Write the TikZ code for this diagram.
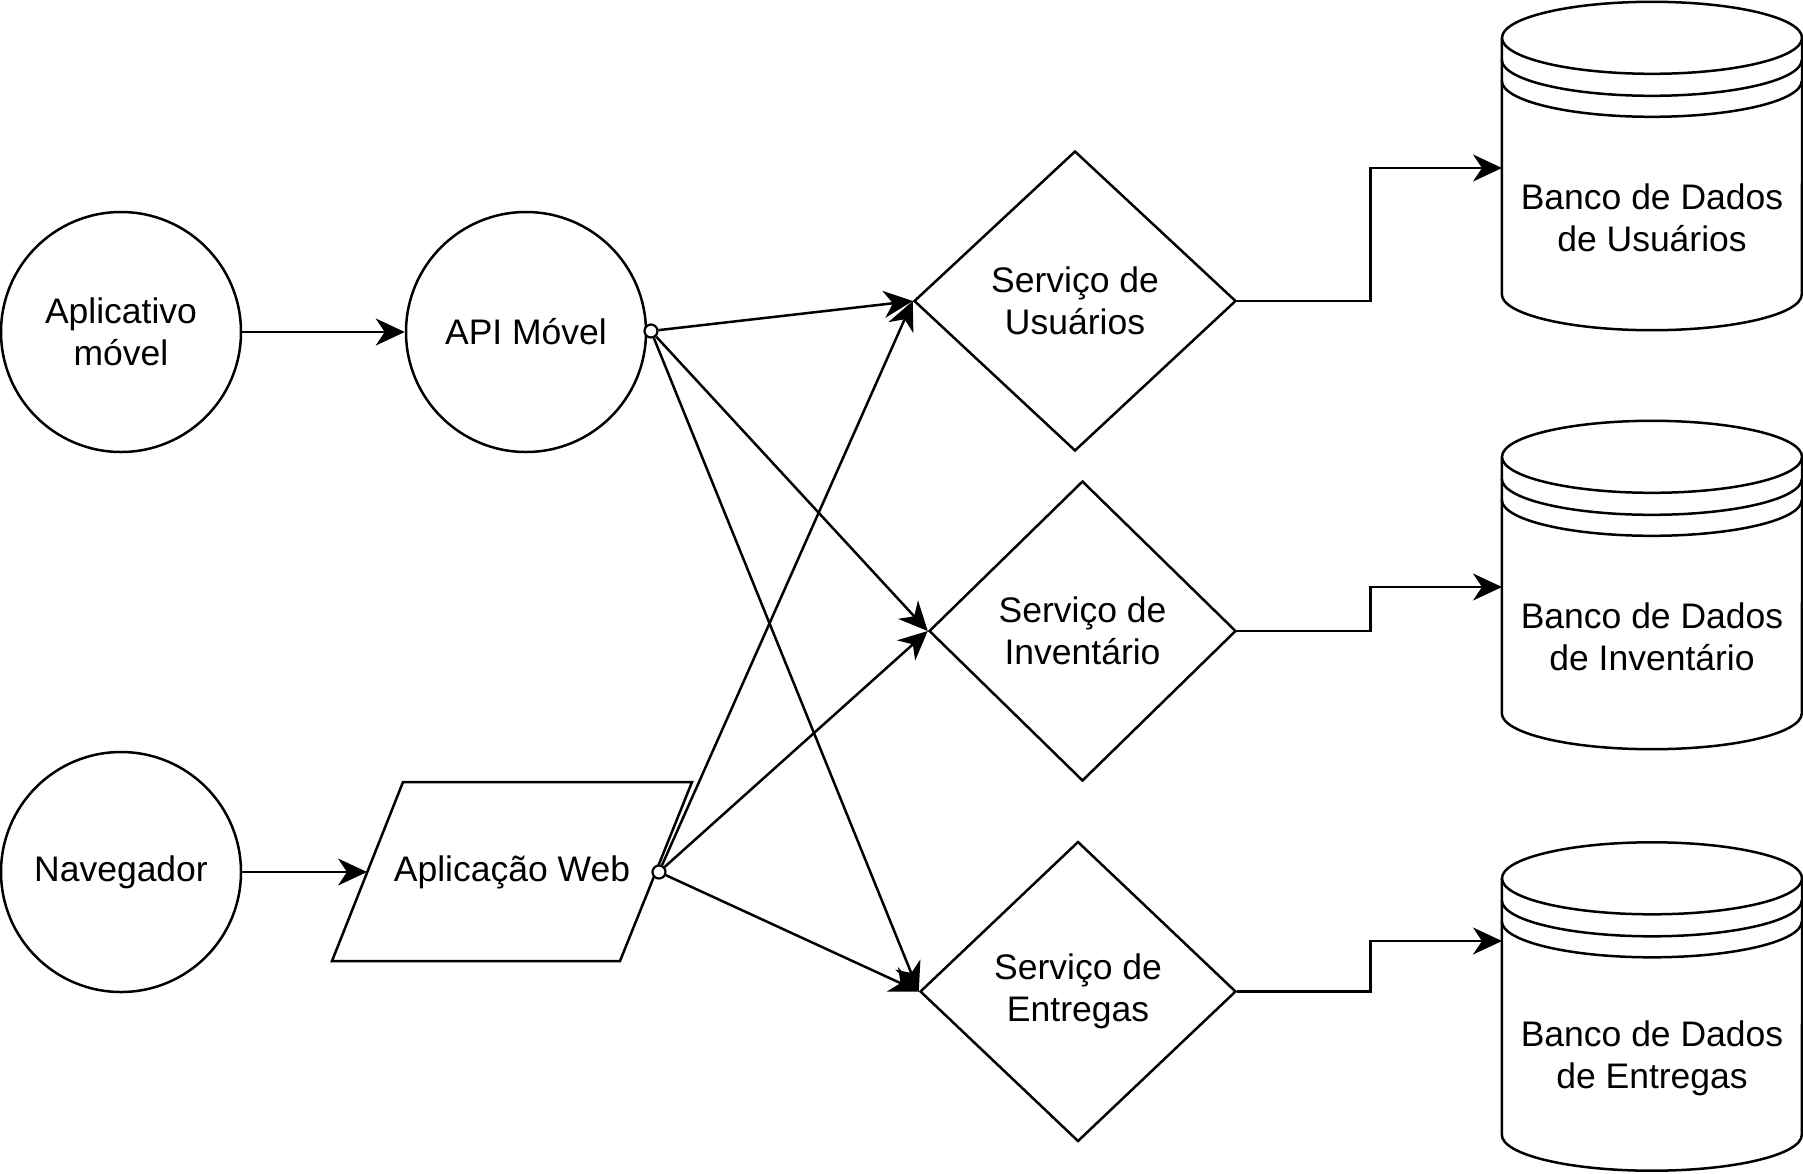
\documentclass[tikz,border=0pt]{standalone}
\usepackage{fontspec}
\setmainfont{Liberation Sans}
\usetikzlibrary{shapes.geometric,arrows.meta,calc}
\newcommand{\dbdraw}[1]{%
  \draw[ln,fill=white] ($(#1.north west)+(0,-36)$) -- ($(#1.south west)+(0,36)$)
    arc[start angle=180,end angle=360,x radius=150,y radius=36]
    -- ($(#1.north east)+(0,-36)$);
  \draw[ln,fill=white] ($(#1.north)+(0,-36)$) ellipse[x radius=150,y radius=36];
  \draw[ln] ($(#1.north west)+(0,-58)$) arc[start angle=180,end angle=360,x radius=150,y radius=36];
  \draw[ln] ($(#1.north west)+(0,-79)$) arc[start angle=180,end angle=360,x radius=150,y radius=36];
}
\begin{document}
\begin{tikzpicture}[x=1pt,y=1pt,
  every node/.style={font=\fontsize{35.5}{42.5}\selectfont,align=center},
  ln/.style={line width=2.5pt},
  arr/.style={ln,-{Stealth[length=29pt,width=27pt,inset=9pt]}},
  circ/.style={circle,draw,ln,minimum size=240pt,inner sep=0pt,fill=white},
  svc/.style={diamond,draw,ln,inner sep=0pt,fill=white,minimum height=300pt},
  dot/.style={circle,draw,line width=2.2pt,minimum size=13pt,inner sep=0pt,fill=white},
  dbbox/.style={rectangle,minimum width=300pt,minimum height=328pt,inner sep=0pt},
]
\useasboundingbox[fill=white] (0,0) rectangle (1803,-1173);

% source circles
\node[circ] (app) at (121,-332) {Aplicativo\\móvel};
\node[circ] (api) at (526,-332) {API Móvel};
\node[circ] (nav) at (121,-872) {Navegador};

% web application (parallelogram)
\draw[ln,fill=white] (403,-782) -- (692,-782) -- (620,-961) -- (332,-961) -- cycle;
\node (web) at (512,-872) {Aplicação Web};
\coordinate (webin) at (367,-872);

% services
\node[svc,minimum width=322pt] (su) at (1075,-301) {Serviço de\\Usuários};
\node[svc,minimum width=307pt] (si) at (1082.5,-631) {Serviço de\\Inventário};
\node[svc,minimum width=316pt] (se) at (1078,-991.5) {Serviço de\\Entregas};

% databases
\node[dbbox] (db1) at (1652,-166) {};
\node[dbbox] (db2) at (1652,-585) {};
\node[dbbox] (db3) at (1652,-1006.5) {};
\dbdraw{db1}
\dbdraw{db2}
\dbdraw{db3}
\node (db1t) at ($(db1.north)+(0,-216)$) {Banco de Dados\\de Usuários};
\node (db2t) at ($(db2.north)+(0,-216)$) {Banco de Dados\\de Inventário};
\node (db3t) at ($(db3.north)+(0,-216)$) {Banco de Dados\\de Entregas};
\coordinate (db1in) at (1502,-168);
\coordinate (db2in) at (1502,-587);
\coordinate (db3in) at (1502,-941);

% connectors
\draw[arr] (app) -- (api);
\draw[arr] (nav) -- (webin);

\node[dot] (apio) at (651,-331) {};
\node[dot] (webo) at (659,-872) {};

\draw[arr] (apio) -- (su.west);
\draw[arr] (apio) -- (si.west);
\draw[arr] (apio) -- (se.west);
\draw[arr] (webo) -- (su.west);
\draw[arr] (webo) -- (si.west);
\draw[arr] (webo) -- (se.west);

\draw[arr] (su.east) -- ++(133,0) |- (db1in);
\draw[arr] (si.east) -- ++(133,0) |- (db2in);
\draw[arr] (se.east) -- ++(133,0) |- (db3in);
\end{tikzpicture}
\end{document}
